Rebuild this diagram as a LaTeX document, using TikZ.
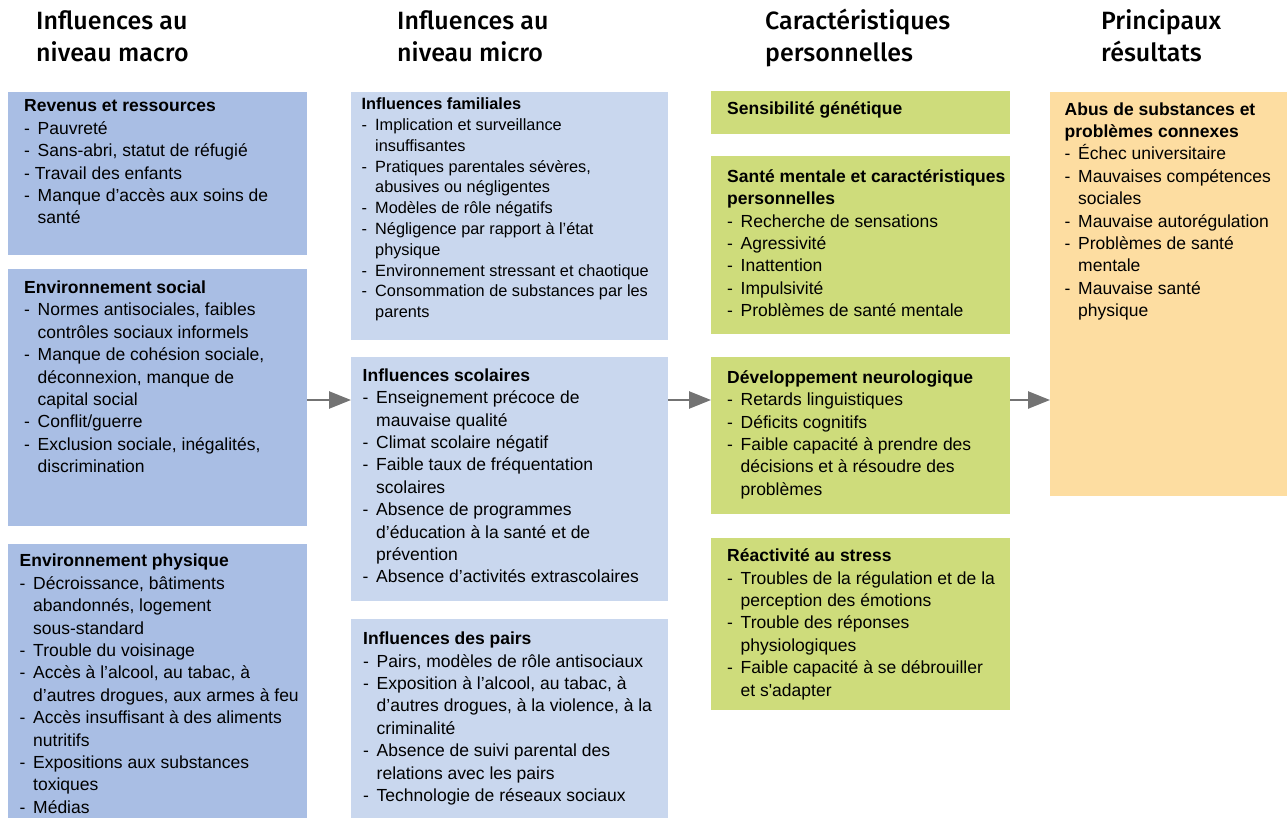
\documentclass[tikz,border=0pt]{standalone}
\usepackage{fontspec}
\setmainfont{Liberation Sans}
\newfontfamily\titlefont{Fira Sans Medium}
\usetikzlibrary{arrows.meta, positioning}
\tikzset{box/.style={anchor=north west, inner sep=0pt, outer sep=0pt},
         box text/.style={anchor=north west, inner sep=0pt, align=left,
                          font=\fontsize{17.5}{22.4}\selectfont}}
\newcommand{\dashitem}{\makebox[13.5pt][l]{-}}
\newcommand{\dashcont}{\hspace*{13.5pt}}
\newcommand{\firstline}{\rule{0pt}{14pt}}

\begin{document}
\begin{tikzpicture}[x=1pt, y=-1pt,
    %Style
    column title/.style={anchor=north west, inner sep=0pt, align=left,
                         font=\titlefont\fontsize{25}{32}\selectfont},
    macro box/.style={box, fill=macrocolor, minimum width=299pt},
    micro box/.style={box, fill=microcolor, minimum width=317pt},
    personal box/.style={box, fill=personalcolor, minimum width=299pt},
    result box/.style={box, fill=resultcolor, minimum width=237pt},
    small text/.style={box text, font=\fontsize{16.3}{20.8}\selectfont},
    flow/.style={line width=2.5pt, draw=flowcolor,
                 -{Triangle[length=22pt,width=17pt]}}]
    %Colors
    \definecolor{macrocolor}{HTML}{A9BEE4}
    \definecolor{microcolor}{HTML}{C9D7EE}
    \definecolor{personalcolor}{HTML}{CEDC7B}
    \definecolor{resultcolor}{HTML}{FDDDA1}
    \definecolor{flowcolor}{HTML}{737373}
    \useasboundingbox (0,0) rectangle (1287,818);

    %Titles
    \node[column title] (title macro) at (36,9) {\rule{0pt}{20pt}Influences au\\niveau macro};
    \node[column title] (title micro) at (397,9) {\rule{0pt}{20pt}Influences au\\niveau micro};
    \node[column title] (title personal) at (765,9) {\rule{0pt}{20pt}Caractéristiques\\personnelles};
    \node[column title] (title result) at (1101,9) {\rule{0pt}{20pt}Principaux\\résultats};

    %Macro column
    \node[macro box, minimum height=163pt] (revenus) at (8,92) {};
    \node[box text] (revenus text) at (24,97.7)
     {\firstline\textbf{Revenus et ressources}\\
      \dashitem Pauvreté\\
      \dashitem Sans-abri, statut de réfugié\\
      - Travail des enfants\\
      \dashitem Manque d’accès aux soins de\\
      \dashcont santé};

    \node[macro box, minimum height=257pt] (social) at (8,269) {};
    \node[box text] (social text) at (24,279.3)
     {\firstline\textbf{Environnement social}\\
      \dashitem Normes antisociales, faibles\\
      \dashcont contrôles sociaux informels\\
      \dashitem Manque de cohésion sociale,\\
      \dashcont déconnexion, manque de\\
      \dashcont capital social\\
      \dashitem Conflit/guerre\\
      \dashitem Exclusion sociale, inégalités,\\
      \dashcont discrimination};

    \node[macro box, minimum height=274pt] (physique) at (8,544) {};
    \node[box text] (physique text) at (19.5,552.7)
     {\firstline\textbf{Environnement physique}\\
      \dashitem Décroissance, bâtiments\\
      \dashcont abandonnés, logement\\
      \dashcont sous-standard\\
      \dashitem Trouble du voisinage\\
      \dashitem Accès à l’alcool, au tabac, à\\
      \dashcont d’autres drogues, aux armes à feu\\
      \dashitem Accès insuffisant à des aliments\\
      \dashcont nutritifs\\
      \dashitem Expositions aux substances\\
      \dashcont toxiques\\
      \dashitem Médias};

    %Micro column
    \node[micro box, minimum height=248pt] (familiales) at (351,92) {};
    \node[small text] (familiales text) at (361.5,95.5)
     {\firstline\textbf{Influences familiales}\\
      \dashitem Implication et surveillance\\
      \dashcont insuffisantes\\
      \dashitem Pratiques parentales sévères,\\
      \dashcont abusives ou négligentes\\
      \dashitem Modèles de rôle négatifs\\
      \dashitem Négligence par rapport à l’état\\
      \dashcont physique\\
      \dashitem Environnement stressant et chaotique\\
      \dashitem Consommation de substances par les\\
      \dashcont parents};

    \node[micro box, minimum height=244pt] (scolaires) at (351,357) {};
    \node[box text] (scolaires text) at (362.5,367)
     {\firstline\textbf{Influences scolaires}\\
      \dashitem Enseignement précoce de\\
      \dashcont mauvaise qualité\\
      \dashitem Climat scolaire négatif\\
      \dashitem Faible taux de fréquentation\\
      \dashcont scolaires\\
      \dashitem Absence de programmes\\
      \dashcont d’éducation à la santé et de\\
      \dashcont prévention\\
      \dashitem Absence d’activités extrascolaires};

    \node[micro box, minimum height=199pt] (pairs) at (351,619) {};
    \node[box text] (pairs text) at (363,630.5)
     {\firstline\textbf{Influences des pairs}\\
      \dashitem Pairs, modèles de rôle antisociaux\\
      \dashitem Exposition à l’alcool, au tabac, à\\
      \dashcont d’autres drogues, à la violence, à la\\
      \dashcont criminalité\\
      \dashitem Absence de suivi parental des\\
      \dashcont relations avec les pairs\\
      \dashitem Technologie de réseaux sociaux};

    %Personal column
    \node[personal box, minimum height=43pt] (sensibilite) at (711,91) {};
    \node[box text] (sensibilite text) at (727,100.5)
     {\firstline\textbf{Sensibilité génétique}};

    \node[personal box, minimum height=178pt] (sante) at (711,156) {};
    \node[box text] (sante text) at (727,168)
     {\firstline\textbf{Santé mentale et caractéristiques}\\
      \textbf{personnelles}\\
      \dashitem Recherche de sensations\\
      \dashitem Agressivité\\
      \dashitem Inattention\\
      \dashitem Impulsivité\\
      \dashitem Problèmes de santé mentale};

    \node[personal box, minimum height=157pt] (dev) at (711,357) {};
    \node[box text] (dev text) at (727,369)
     {\firstline\textbf{Développement neurologique}\\
      \dashitem Retards linguistiques\\
      \dashitem Déficits cognitifs\\
      \dashitem Faible capacité à prendre des\\
      \dashcont décisions et à résoudre des\\
      \dashcont problèmes};

    \node[personal box, minimum height=172pt] (reactivite) at (711,538) {};
    \node[box text] (reactivite text) at (727,547.5)
     {\firstline\textbf{Réactivité au stress}\\
      \dashitem Troubles de la régulation et de la\\
      \dashcont perception des émotions\\
      \dashitem Trouble des réponses\\
      \dashcont physiologiques\\
      \dashitem Faible capacité à se débrouiller\\
      \dashcont et s\textquotesingle adapter};

    %Results column
    \node[result box, minimum height=404pt] (abus) at (1050,92) {};
    \node[box text] (abus text) at (1064.5,101)
     {\firstline\textbf{Abus de substances et}\\
      \textbf{problèmes connexes}\\
      \dashitem Échec universitaire\\
      \dashitem Mauvaises compétences\\
      \dashcont sociales\\
      \dashitem Mauvaise autorégulation\\
      \dashitem Problèmes de santé\\
      \dashcont mentale\\
      \dashitem Mauvaise santé\\
      \dashcont physique};

    %Arrows
    \coordinate (flowline) at (0,400);
    \foreach \from/\to in {social/scolaires, scolaires/dev, dev/abus}
      \draw[flow] (\from.east |- flowline) -- (\to.west |- flowline);
\end{tikzpicture}
\end{document}
